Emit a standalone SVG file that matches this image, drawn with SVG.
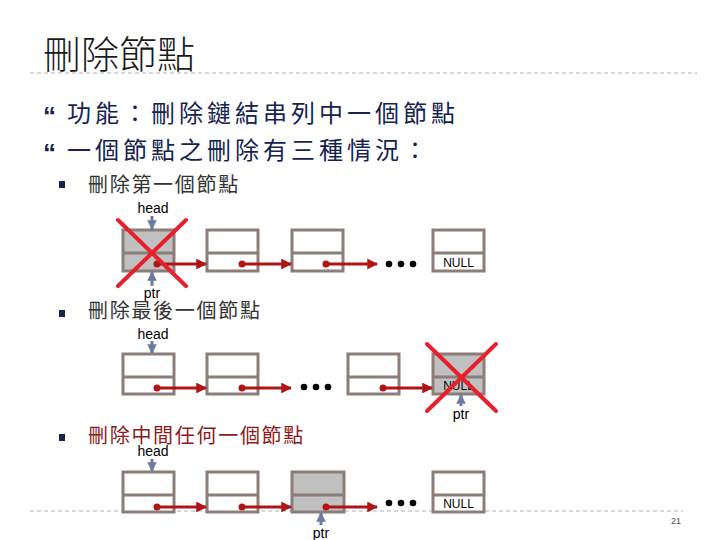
<svg xmlns="http://www.w3.org/2000/svg" width="720" height="540" viewBox="0 0 720 540">
<defs>
<marker id="ra" viewBox="0 0 10 10" refX="9" refY="5" markerWidth="3.6" markerHeight="3.6" orient="auto" markerUnits="strokeWidth"><path d="M0,0 L10,5 L0,10 Z" fill="#b01515"/></marker>
<marker id="ba" viewBox="0 0 10 10" refX="9" refY="5" markerWidth="3.2" markerHeight="3.2" orient="auto" markerUnits="strokeWidth"><path d="M0,0 L10,5 L0,10 Z" fill="#6e7ba0"/></marker>
</defs>
<style>
.t{font-family:"Noto Sans CJK TC","Noto Sans CJK SC",sans-serif}
.l{font-family:"Liberation Sans",Arial,sans-serif}
.box{fill:#fff;stroke:#8c7d78;stroke-width:3}
.g{fill:#c0c0c0}
.div{stroke:#8c7d78;stroke-width:3}
.rl{stroke:#b01515;stroke-width:3;fill:none;marker-end:url(#ra)}
.rd{fill:#b01515}
.bl{stroke:#6e7ba0;stroke-width:3;fill:none;marker-end:url(#ba)}
.x{stroke:#e8202e;stroke-width:4;stroke-linecap:round}
.dot{fill:#000}
.dash{stroke:#a8b4c0;stroke-width:1;stroke-dasharray:4 3}
.nl{font-size:12px;fill:#000}
.lab{font-size:14px;fill:#000}
.q{font-size:26px;font-weight:bold;fill:#14244e}
</style>
<rect width="720" height="540" fill="#fff"/>
<text class="t" x="43" y="68" font-size="38" font-weight="300" fill="#1a1a1a">刪除節點</text>
<line class="dash" x1="30" y1="73" x2="697" y2="73"/>
<text class="l q" x="43" y="125">“</text>
<text class="t" x="67" y="122" font-size="24" letter-spacing="4" fill="#14244e">功能：刪除鏈結串列中一個節點</text>
<text class="l q" x="43" y="162">“</text>
<text class="t" x="67" y="159" font-size="24" letter-spacing="4" fill="#14244e">一個節點之刪除有三種情況：</text>
<rect x="59" y="181" width="6" height="7" fill="#14244e"/>
<text class="t" x="88" y="192" font-size="20" letter-spacing="1.7" fill="#333">刪除第一個節點</text>
<rect x="59" y="310" width="6" height="7" fill="#14244e"/>
<text class="t" x="88" y="318" font-size="20" letter-spacing="1.7" fill="#333">刪除最後一個節點</text>
<rect x="59" y="434" width="6" height="7" fill="#14244e"/>
<text class="t" x="88" y="443" font-size="20" letter-spacing="1.7" fill="#8b1a1a">刪除中間任何一個節點</text>

<g id="list1">
<g id="l1n1"><rect class="box g" x="123" y="230" width="51" height="41"/><line class="div" x1="123" y1="253" x2="174" y2="253"/></g>
<g id="l1n2"><rect class="box" x="207" y="230" width="51" height="41"/><line class="div" x1="207" y1="253" x2="258" y2="253"/></g>
<g id="l1n3"><rect class="box" x="292" y="230" width="51" height="41"/><line class="div" x1="292" y1="253" x2="343" y2="253"/></g>
<g id="l1n4"><rect class="box" x="433" y="230" width="51" height="41"/><line class="div" x1="433" y1="253" x2="484" y2="253"/><text class="l nl" x="458.5" y="267" text-anchor="middle">NULL</text></g>
<circle class="dot" cx="389" cy="264" r="3.3"/><circle class="dot" cx="401" cy="264" r="3.3"/><circle class="dot" cx="413" cy="264" r="3.3"/>
<text class="l lab" x="153" y="213" text-anchor="middle">head</text>
<text class="l lab" x="152" y="298" text-anchor="middle">ptr</text>
</g>
<g id="connectors1">
<circle class="rd" cx="157" cy="264" r="3.5"/><line class="rl" x1="157" y1="264" x2="206" y2="264"/>
<circle class="rd" cx="242" cy="264" r="3.5"/><line class="rl" x1="242" y1="264" x2="291" y2="264"/>
<circle class="rd" cx="326" cy="264" r="3.5"/><line class="rl" x1="326" y1="264" x2="377" y2="264"/>
<line class="bl" x1="152" y1="216" x2="152" y2="229"/>
<line class="bl" x1="152" y1="286" x2="152" y2="272"/>
<line class="x" x1="118" y1="220" x2="186" y2="286"/><line class="x" x1="118" y1="286" x2="186" y2="220"/>
</g>

<g id="list2">
<g id="l2n1"><rect class="box" x="123" y="354" width="51" height="40"/><line class="div" x1="123" y1="377" x2="174" y2="377"/></g>
<g id="l2n2"><rect class="box" x="207" y="354" width="51" height="40"/><line class="div" x1="207" y1="377" x2="258" y2="377"/></g>
<g id="l2n3"><rect class="box" x="348" y="354" width="51" height="40"/><line class="div" x1="348" y1="377" x2="399" y2="377"/></g>
<g id="l2n4"><rect class="box g" x="433" y="354" width="51" height="40"/><line class="div" x1="433" y1="377" x2="484" y2="377"/><text class="l nl" x="458.5" y="390" text-anchor="middle">NULL</text></g>
<circle class="dot" cx="304" cy="387" r="3.3"/><circle class="dot" cx="316" cy="387" r="3.3"/><circle class="dot" cx="328" cy="387" r="3.3"/>
<text class="l lab" x="153" y="339" text-anchor="middle">head</text>
<text class="l lab" x="461" y="419" text-anchor="middle">ptr</text>
</g>
<g id="connectors2">
<circle class="rd" cx="157" cy="388" r="3.5"/><line class="rl" x1="157" y1="388" x2="206" y2="388"/>
<circle class="rd" cx="242" cy="388" r="3.5"/><line class="rl" x1="242" y1="388" x2="291" y2="388"/>
<circle class="rd" cx="383" cy="388" r="3.5"/><line class="rl" x1="383" y1="388" x2="432" y2="388"/>
<line class="bl" x1="152" y1="341" x2="152" y2="353"/>
<line class="bl" x1="461" y1="406" x2="461" y2="395"/>
<line class="x" x1="427" y1="344" x2="496" y2="411"/><line class="x" x1="427" y1="411" x2="496" y2="344"/>
</g>

<line class="dash" x1="30" y1="511" x2="683" y2="511"/>
<text class="l" x="681" y="524" font-size="9" fill="#555" text-anchor="end">21</text>

<g id="list3">
<g id="l3n1"><rect class="box" x="123" y="472" width="51" height="40"/><line class="div" x1="123" y1="495" x2="174" y2="495"/></g>
<g id="l3n2"><rect class="box" x="207" y="472" width="51" height="40"/><line class="div" x1="207" y1="495" x2="258" y2="495"/></g>
<g id="l3n3"><rect class="box g" x="292" y="472" width="52" height="40"/><line class="div" x1="292" y1="495" x2="344" y2="495"/></g>
<g id="l3n4"><rect class="box" x="433" y="472" width="51" height="40"/><line class="div" x1="433" y1="495" x2="484" y2="495"/><text class="l nl" x="458.5" y="508" text-anchor="middle">NULL</text></g>
<circle class="dot" cx="389" cy="503" r="3.3"/><circle class="dot" cx="401" cy="503" r="3.3"/><circle class="dot" cx="413" cy="503" r="3.3"/>
<text class="l lab" x="153" y="456" text-anchor="middle">head</text>
<text class="l lab" x="321" y="538" text-anchor="middle">ptr</text>
</g>
<g id="connectors3">
<circle class="rd" cx="157" cy="507" r="3.5"/><line class="rl" x1="157" y1="507" x2="206" y2="507"/>
<circle class="rd" cx="242" cy="507" r="3.5"/><line class="rl" x1="242" y1="507" x2="291" y2="507"/>
<circle class="rd" cx="326" cy="507" r="3.5"/><line class="rl" x1="326" y1="507" x2="377" y2="507"/>
<line class="bl" x1="152" y1="459" x2="152" y2="471"/>
<line class="bl" x1="321" y1="525" x2="321" y2="513"/>
</g>
</svg>
